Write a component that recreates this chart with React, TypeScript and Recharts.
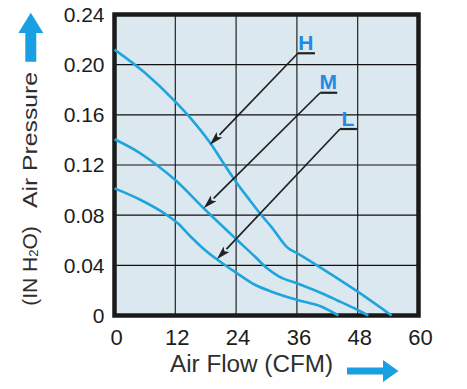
import { CartesianGrid, ComposedChart, Line, ReferenceArea, ReferenceLine, XAxis, YAxis } from "recharts";

const flowTicks = [0, 12, 24, 36, 48, 60];
const pressureTicks = [0, 0.04, 0.08, 0.12, 0.16, 0.2, 0.24];

// H / M / L fan speed curves (CFM vs IN H2O)
const highFlow = [0, 6, 12, 15.3, 18.9, 21.9, 24, 26.5, 29, 31, 34.3, 36.1, 40.9, 48, 54.7];
const highPressure = [0.212, 0.1935, 0.1705, 0.156, 0.1375, 0.119, 0.1065, 0.093, 0.08, 0.0705, 0.0536, 0.0496, 0.0376, 0.019, 0];

const midFlow = [0, 4, 8, 12, 17.6, 24.2, 27.7, 30, 32.5, 36.1, 40.9, 44, 48, 50.1];
const midPressure = [0.1405, 0.132, 0.121, 0.108, 0.0855, 0.0602, 0.047, 0.038, 0.031, 0.0255, 0.0177, 0.012, 0.0044, 0];

const lowFlow = [0, 5, 10, 12.5, 15, 17.5, 20.2, 24.2, 27.7, 31, 36.1, 40.9, 44.2];
const lowPressure = [0.1014, 0.0925, 0.081, 0.0735, 0.063, 0.0535, 0.0448, 0.0336, 0.0245, 0.019, 0.0124, 0.007, 0];

const pointerLabels = ["H", "M", "L"];
const pointerStart = [
  { x: 36.2, y: 0.2091 },
  { x: 40.6, y: 0.1776 },
  { x: 44.5, y: 0.1487 },
];
const pointerTip = [
  { x: 18.8, y: 0.136 },
  { x: 17.6, y: 0.0855 },
  { x: 20.2, y: 0.0448 },
];

const toPoints = (xs: number[], ys: number[]) => xs.map((x, i) => ({ flow: x, pressure: ys[i] }));

const curves = [
  { key: "H", data: toPoints(highFlow, highPressure) },
  { key: "M", data: toPoints(midFlow, midPressure) },
  { key: "L", data: toPoints(lowFlow, lowPressure) },
];

const font = "'Liberation Sans', Arial, sans-serif";
const curveColor = "#1ea5de";
const arrowBlue = "#18a0e2";

function Pointer(props: any, label: string) {
  const { x1, y1, x2, y2 } = props;
  const dx = x2 - x1;
  const dy = y2 - y1;
  const len = Math.sqrt(dx * dx + dy * dy);
  const ux = dx / len;
  const uy = dy / len;
  const headLen = 14;
  const half = 4;
  const bx = x2 - ux * headLen;
  const by = y2 - uy * headLen;
  return (
    <g>
      <line x1={x1} y1={y1} x2={bx} y2={by} stroke="#222" strokeWidth={1.7} />
      <polygon
        points={`${x2},${y2} ${bx - uy * half},${by + ux * half} ${bx + ux * 3},${by + uy * 3} ${bx + uy * half},${by - ux * half}`}
        fill="#222"
      />
      <line x1={x1} y1={y1} x2={x1 + 17} y2={y1} stroke="#222" strokeWidth={2.2} />
      <text x={x1 + 8} y={y1 - 3.5} textAnchor="middle" fontFamily={font} fontWeight="bold" fontSize={21} fill="#1f8be4">
        {label}
      </text>
    </g>
  );
}

function PressureTitle() {
  return (
    <g>
      <polygon points="30.8,12.7 43.3,33 36.3,33 36.3,61.7 25.3,61.7 25.3,33 18.3,33" fill={arrowBlue} />
      <text
        x={37}
        y={140}
        transform="rotate(-90, 37, 140)"
        textAnchor="middle"
        fontFamily={font}
        fontSize={21}
        fill="#2e2e2e"
        textLength={136}
        lengthAdjust="spacingAndGlyphs"
      >
        Air Pressure
      </text>
      <text x={37} y={266} transform="rotate(-90, 37, 266)" textAnchor="middle" fontFamily={font} fontSize={21} fill="#2e2e2e">
        (IN H<tspan fontSize={13} dy={1}>2</tspan>
        <tspan dy={-1}>O)</tspan>
      </text>
    </g>
  );
}

function FlowTitle() {
  return (
    <g>
      <text x={170} y={372} fontFamily={font} fontSize={23} fill="#2e2e2e" textLength={163} lengthAdjust="spacingAndGlyphs">
        Air Flow (CFM)
      </text>
      <polygon points="347,367.5 383,367.5 383,360 398.5,371 383,382 383,374.5 347,374.5" fill={arrowBlue} />
    </g>
  );
}

export default function App() {
  return (
    <div style={{ position: "absolute", left: 0, top: 0, width: 467, height: 389, background: "#fff" }}>
      <ComposedChart width={467} height={389} margin={{ top: 14.5, right: 48.5, bottom: 13.5, left: 54.5 }}>
        <CartesianGrid stroke="#111" strokeWidth={1.1} fill="#dce8ef" fillOpacity={1} />
        <XAxis
          type="number"
          dataKey="flow"
          domain={[0, 60]}
          ticks={flowTicks}
          height={60}
          axisLine={false}
          tickLine={false}
          tickSize={0}
          tickMargin={14}
          dx={2}
          tick={{ fontSize: 22, fill: "#1c1c1c", fontFamily: font }}
          label={{ content: () => <FlowTitle /> }}
        />
        <YAxis
          type="number"
          domain={[0, 0.24]}
          ticks={pressureTicks}
          width={60}
          axisLine={false}
          tickLine={false}
          tickSize={0}
          tickMargin={10}
          tickFormatter={(v: number) => (v === 0 ? "0" : v.toFixed(2))}
          tick={{ fontSize: 21, fill: "#1c1c1c", fontFamily: font }}
          label={{ content: () => <PressureTitle /> }}
        />
        {curves.map((c) => (
          <Line
            key={c.key}
            data={c.data}
            dataKey="pressure"
            type="monotone"
            stroke={curveColor}
            strokeWidth={2.6}
            dot={false}
            activeDot={false}
            isAnimationActive={false}
          />
        ))}
        {pointerLabels.map((label, i) => (
          <ReferenceLine
            key={label}
            segment={[pointerStart[i], pointerTip[i]]}
            shape={(p: any) => Pointer(p, label)}
          />
        ))}
        <ReferenceArea x1={0} x2={60} y1={0} y2={0.24} fill="none" stroke="#1a1a1a" strokeWidth={4.5} />
      </ComposedChart>
    </div>
  );
}
